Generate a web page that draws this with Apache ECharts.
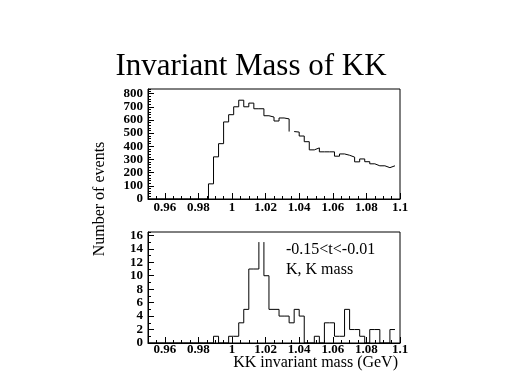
<!DOCTYPE html>
<html>
<head>
<meta charset="utf-8">
<script src="https://cdn.jsdelivr.net/npm/echarts@6/dist/echarts.min.js"></script>
<style>html,body{margin:0;padding:0;background:#fff}#c{width:512px;height:384px}</style>
</head>
<body>
<div id="c"></div>
<script>
// ---- data ----
const xMin = 0.95, xMax = 1.1, binWidth = 0.003;
const xTickLabels = [0.96, 0.98, 1, 1.02, 1.04, 1.06, 1.08, 1.1];
const topYTicks = [0, 100, 200, 300, 400, 500, 600, 700, 800];
const bottomYTicks = [0, 2, 4, 6, 8, 10, 12, 14, 16];
// counts per bin (bin k spans xMin + k*binWidth ... +binWidth)
const topCounts = [0,0,0,0,0,0,0,0,0,0,0,0,
  115,320,420,585,640,700,750,700,728,685,685,632,622,592,615,608,512,508,
  478,435,373,388,358,358,358,325,342,332,318,282,304,283,267,252,252,238,252];
const bottomCounts = [0,0,0,0,0,0,0,0,0,0,0,0,0,
  1,0,0,1,1,3,5,11,11,15,10,5,5,4,4,3,5,4,0,0,1,0,3,3,1,1,5,2,2,1,0,2,2,0,0,2];
const topGapBins = [28];
const bottomGapBins = [22];
const titleText = 'Invariant Mass of KK';
const yTitle = 'Number of events';
const xTitle = 'KK invariant mass (GeV)';
const noteLines = ['-0.15<t<-0.01', 'K, K mass'];

// ---- build histogram outline from counts ----
function edge(k){ return +(xMin + k * binWidth).toFixed(4); }
function outline(counts, gaps){
  const pts = [];
  for (let k = 0; k < counts.length; k++){
    pts.push([edge(k), counts[k]]);
    if (gaps.indexOf(k) >= 0) pts.push([edge(k) + binWidth/2, '-']);
    pts.push([edge(k+1), counts[k]]);
  }
  return pts;
}

const lblFont = {color:'#000', fontFamily:'Liberation Serif', fontWeight:'bold', fontSize:13};
function xAxes(g, margin){
  return [
    {gridIndex:g, type:'value', position:'bottom', min:xMin, max:xMax,
     axisLine:{show:true, lineStyle:{color:'#000', width:1}},
     axisTick:{show:true, inside:true, length:6, customValues:xTickLabels, lineStyle:{color:'#000'}},
     axisLabel:Object.assign({customValues:xTickLabels, margin:margin,
       formatter:v=>String(+(+v).toFixed(2))}, lblFont),
     splitLine:{show:false}},
    {gridIndex:g, type:'value', position:'bottom', min:xMin, max:xMax, interval:0.005,
     axisLine:{show:false}, axisTick:{show:true, inside:true, length:3, lineStyle:{color:'#000'}},
     axisLabel:{show:false}, splitLine:{show:false}}
  ];
}
function yAxes(g, max, ticks, minor){
  return [
    {gridIndex:g, type:'value', position:'left', min:0, max:max,
     axisLine:{show:true, lineStyle:{color:'#000', width:1}},
     axisTick:{show:true, inside:true, length:6, customValues:ticks, lineStyle:{color:'#000'}},
     axisLabel:Object.assign({customValues:ticks, margin:5}, lblFont),
     splitLine:{show:false}},
    {gridIndex:g, type:'value', position:'left', min:0, max:max, interval:minor,
     axisLine:{show:false}, axisTick:{show:true, inside:true, length:3, lineStyle:{color:'#000'}},
     axisLabel:{show:false}, splitLine:{show:false}}
  ];
}

const chart = echarts.init(document.getElementById('c'), null, {renderer:'canvas'});
chart.setOption({
  backgroundColor:'#fff',
  animation:false,
  grid:[
    {left:148, width:252, top:89, height:110, show:true, borderColor:'#000', borderWidth:1, backgroundColor:'transparent'},
    {left:148, width:252, top:232, height:111, show:true, borderColor:'#000', borderWidth:1, backgroundColor:'transparent'}
  ],
  xAxis: xAxes(0, 2).concat(xAxes(1, 0)),
  yAxis: yAxes(0, 835, topYTicks, 20).concat(yAxes(1, 16.5, bottomYTicks, 1)),
  series:[
    {type:'line', xAxisIndex:0, yAxisIndex:0, data:outline(topCounts, topGapBins),
     symbol:'none', connectNulls:false, lineStyle:{color:'#000', width:1}, silent:true},
    {type:'line', xAxisIndex:2, yAxisIndex:2, data:outline(bottomCounts, bottomGapBins),
     symbol:'none', connectNulls:false, lineStyle:{color:'#000', width:1}, silent:true}
  ],
  graphic:[
    {type:'text', style:{text:titleText, x:251, y:67, textAlign:'center', textVerticalAlign:'middle',
      font:'31px "Liberation Serif"', fill:'#000'}},
    {type:'text', rotation:Math.PI/2, x:100, y:199, style:{text:yTitle, x:0, y:0, textAlign:'center', textVerticalAlign:'middle',
      font:'16px "Liberation Serif"', fill:'#000'}},
    {type:'text', style:{text:xTitle, x:398, y:363, textAlign:'right', textVerticalAlign:'middle',
      font:'16px "Liberation Serif"', fill:'#000'}},
    {type:'text', style:{text:noteLines[0], x:286, y:250, textAlign:'left', textVerticalAlign:'middle',
      font:'16px "Liberation Serif"', fill:'#000'}},
    {type:'text', style:{text:noteLines[1], x:286, y:270, textAlign:'left', textVerticalAlign:'middle',
      font:'16px "Liberation Serif"', fill:'#000'}}
  ]
});
</script>
</body>
</html>
